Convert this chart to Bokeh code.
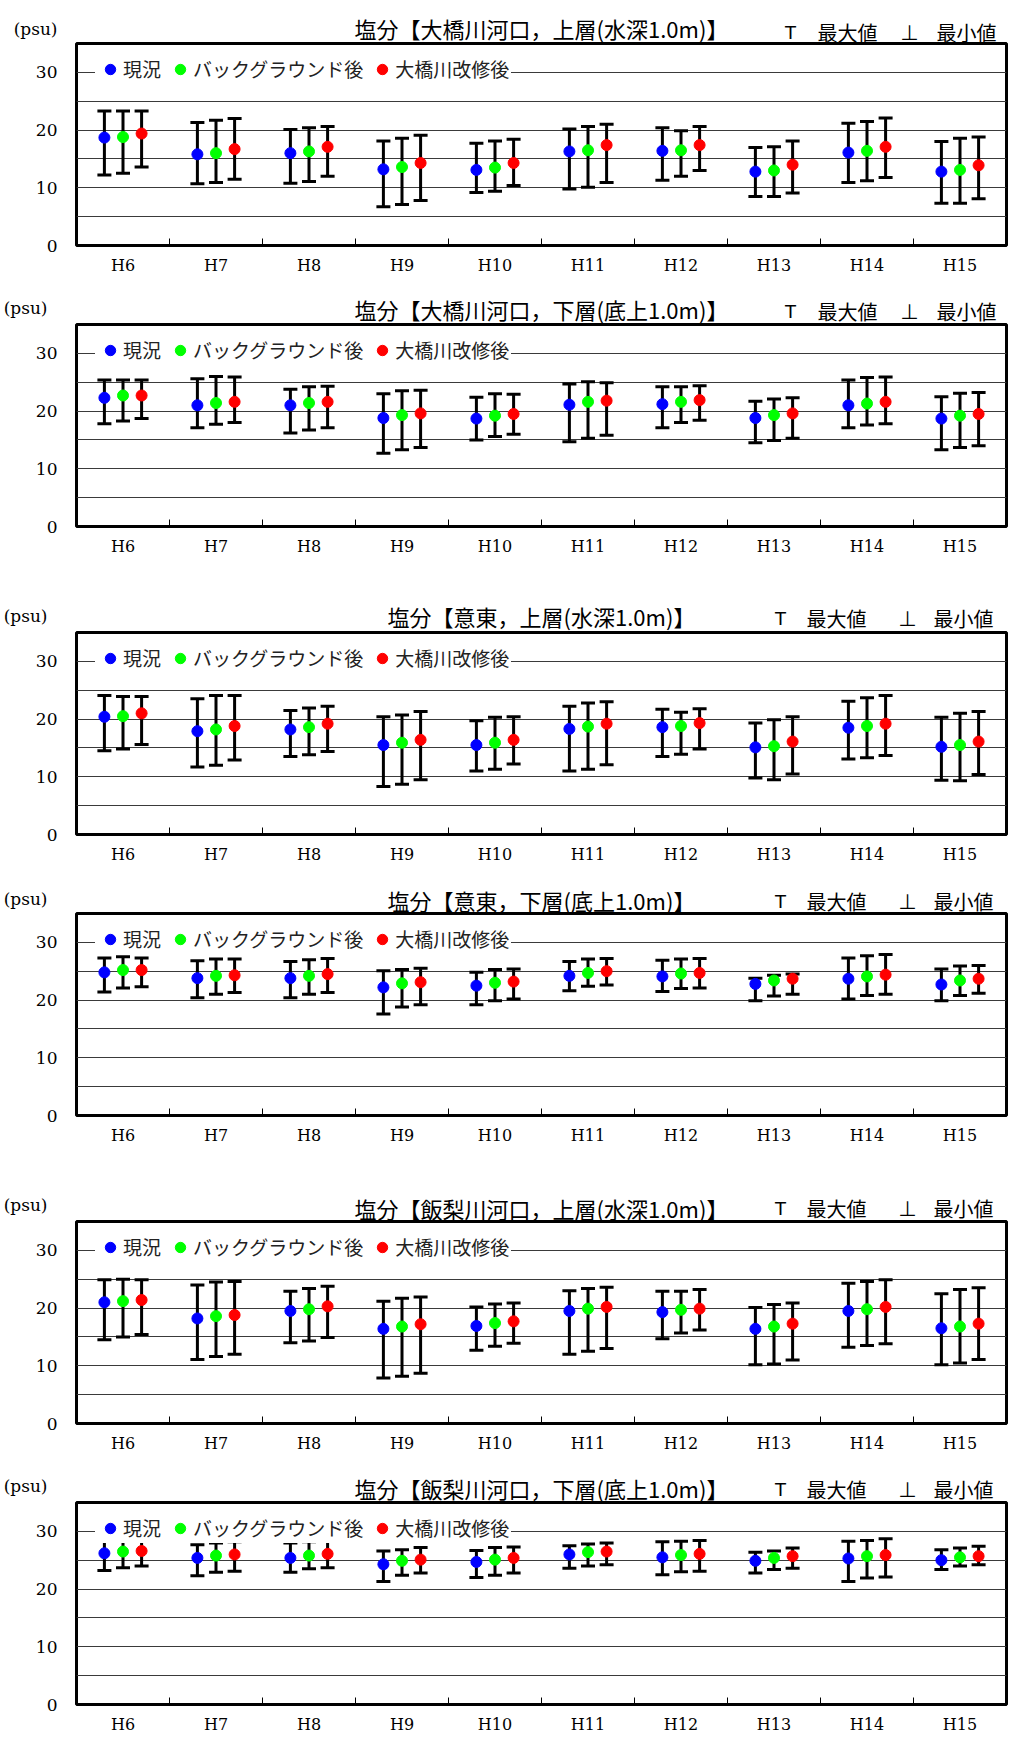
from bokeh.plotting import figure
from bokeh.models import (ColumnDataSource, Range1d, FixedTicker, Whisker, TeeHead,
                          Label, Legend, LegendItem)
from bokeh.transform import dodge
from bokeh.layouts import column
from bokeh.embed import file_html
from bokeh.resources import INLINE

# ---------------- data ----------------
YEARS = ["H6", "H7", "H8", "H9", "H10", "H11", "H12", "H13", "H14", "H15"]
SERIES = ["現況", "バックグラウンド後", "大橋川改修後"]
TITLES = [
    "塩分【大橋川河口，上層(水深1.0m)】",
    "塩分【大橋川河口，下層(底上1.0m)】",
    "塩分【意東，上層(水深1.0m)】",
    "塩分【意東，下層(底上1.0m)】",
    "塩分【飯梨川河口，上層(水深1.0m)】",
    "塩分【飯梨川河口，下層(底上1.0m)】",
]
UNIT = "(psu)"
MAX_TXT = "最大値"
MIN_TXT = "最小値"

# Panel 1: 大橋川河口 上層
P1_CUR_MEAN = [18.7, 15.8, 16.0, 13.2, 13.1, 16.3, 16.4, 12.8, 16.1, 12.8]
P1_CUR_MAX = [23.3, 21.3, 20.1, 18.1, 17.7, 20.2, 20.4, 17.0, 21.2, 18.0]
P1_CUR_MIN = [12.2, 10.7, 10.8, 6.7, 9.2, 9.8, 11.3, 8.5, 10.9, 7.3]
P1_BG_MEAN = [18.8, 16.0, 16.3, 13.6, 13.5, 16.5, 16.5, 13.0, 16.4, 13.1]
P1_BG_MAX = [23.3, 21.7, 20.4, 18.6, 18.1, 20.6, 19.9, 17.1, 21.5, 18.6]
P1_BG_MIN = [12.5, 10.9, 11.1, 7.1, 9.4, 10.1, 12.0, 8.5, 11.2, 7.3]
P1_IMP_MEAN = [19.4, 16.7, 17.1, 14.3, 14.3, 17.4, 17.4, 14.0, 17.1, 13.9]
P1_IMP_MAX = [23.3, 22.0, 20.6, 19.1, 18.4, 21.0, 20.6, 18.1, 22.1, 18.8]
P1_IMP_MIN = [13.6, 11.5, 12.0, 7.8, 10.4, 10.9, 13.0, 9.1, 11.8, 8.1]

# Panel 2: 大橋川河口 下層
P2_CUR_MEAN = [22.3, 21.0, 21.0, 18.8, 18.7, 21.1, 21.2, 18.8, 21.0, 18.7]
P2_CUR_MAX = [25.4, 25.6, 23.8, 23.0, 22.4, 24.7, 24.2, 21.7, 25.4, 22.5]
P2_CUR_MIN = [17.8, 17.1, 16.2, 12.7, 15.0, 14.7, 17.1, 14.5, 17.1, 13.3]
P2_BG_MEAN = [22.7, 21.4, 21.4, 19.3, 19.2, 21.6, 21.6, 19.3, 21.3, 19.2]
P2_BG_MAX = [25.4, 26.0, 24.2, 23.5, 23.0, 25.1, 24.2, 22.1, 25.8, 23.1]
P2_BG_MIN = [18.3, 17.7, 16.7, 13.3, 15.6, 15.3, 18.0, 14.9, 17.6, 13.7]
P2_IMP_MEAN = [22.7, 21.6, 21.6, 19.6, 19.5, 21.8, 21.9, 19.6, 21.6, 19.5]
P2_IMP_MAX = [25.4, 25.9, 24.3, 23.6, 22.9, 24.9, 24.4, 22.3, 25.9, 23.2]
P2_IMP_MIN = [18.7, 18.0, 17.1, 13.7, 16.0, 15.8, 18.4, 15.3, 17.8, 14.0]

# Panel 3: 意東 上層
P3_CUR_MEAN = [20.4, 17.9, 18.2, 15.5, 15.5, 18.3, 18.6, 15.1, 18.5, 15.2]
P3_CUR_MAX = [24.1, 23.5, 21.5, 20.4, 19.7, 22.2, 21.7, 19.3, 23.1, 20.3]
P3_CUR_MIN = [14.5, 11.7, 13.5, 8.3, 11.0, 11.0, 13.5, 9.8, 13.1, 9.4]
P3_BG_MEAN = [20.5, 18.2, 18.6, 15.9, 15.9, 18.7, 18.8, 15.3, 18.8, 15.5]
P3_BG_MAX = [23.9, 24.1, 21.9, 20.7, 20.3, 22.8, 21.2, 19.9, 23.7, 21.0]
P3_BG_MIN = [14.8, 12.0, 13.8, 8.7, 11.3, 11.3, 13.9, 9.5, 13.3, 9.3]
P3_IMP_MEAN = [21.0, 18.8, 19.2, 16.4, 16.4, 19.2, 19.3, 16.1, 19.2, 16.1]
P3_IMP_MAX = [23.9, 24.1, 22.2, 21.3, 20.4, 23.0, 21.8, 20.4, 24.1, 21.3]
P3_IMP_MIN = [15.6, 12.9, 14.4, 9.5, 12.2, 12.1, 14.8, 10.5, 13.7, 10.4]

# Panel 4: 意東 下層
P4_CUR_MEAN = [24.8, 23.8, 23.8, 22.2, 22.5, 24.2, 24.1, 22.8, 23.7, 22.7]
P4_CUR_MAX = [27.3, 26.8, 26.7, 25.1, 24.8, 26.7, 26.9, 23.8, 27.3, 25.4]
P4_CUR_MIN = [21.4, 20.4, 20.4, 17.6, 19.2, 21.6, 21.5, 19.9, 20.2, 19.9]
P4_BG_MEAN = [25.2, 24.2, 24.2, 22.9, 23.0, 24.7, 24.6, 23.4, 24.1, 23.4]
P4_BG_MAX = [27.5, 27.1, 27.0, 25.3, 25.3, 27.1, 27.1, 24.3, 27.7, 25.9]
P4_BG_MIN = [22.1, 21.0, 21.0, 18.8, 19.9, 22.4, 22.0, 20.7, 20.8, 20.8]
P4_IMP_MEAN = [25.2, 24.3, 24.5, 23.1, 23.2, 25.0, 24.7, 23.7, 24.4, 23.7]
P4_IMP_MAX = [27.3, 27.1, 27.2, 25.5, 25.4, 27.2, 27.2, 24.5, 27.9, 26.0]
P4_IMP_MIN = [22.3, 21.3, 21.3, 19.2, 20.2, 22.6, 22.1, 21.0, 21.0, 21.2]

# Panel 5: 飯梨川河口 上層
P5_CUR_MEAN = [21.0, 18.2, 19.5, 16.4, 16.9, 19.5, 19.3, 16.4, 19.5, 16.5]
P5_CUR_MAX = [24.9, 24.0, 22.9, 21.2, 20.2, 23.0, 22.9, 20.1, 24.3, 22.5]
P5_CUR_MIN = [14.5, 11.1, 14.0, 7.9, 12.7, 12.0, 14.7, 10.2, 13.2, 10.2]
P5_BG_MEAN = [21.2, 18.6, 19.8, 16.8, 17.4, 19.9, 19.7, 16.8, 19.8, 16.8]
P5_BG_MAX = [25.0, 24.5, 23.4, 21.7, 20.7, 23.4, 22.9, 20.6, 24.6, 23.2]
P5_BG_MIN = [15.0, 11.6, 14.3, 8.2, 13.4, 12.5, 15.7, 10.3, 13.5, 10.5]
P5_IMP_MEAN = [21.4, 18.8, 20.3, 17.2, 17.7, 20.2, 19.9, 17.3, 20.2, 17.3]
P5_IMP_MAX = [24.9, 24.6, 23.8, 21.9, 20.9, 23.6, 23.2, 20.9, 24.9, 23.5]
P5_IMP_MIN = [15.4, 12.0, 14.9, 8.7, 13.9, 13.0, 16.2, 11.0, 13.8, 11.1]

# Panel 6: 飯梨川河口 下層
P6_CUR_MEAN = [26.2, 25.4, 25.4, 24.3, 24.7, 26.0, 25.5, 24.9, 25.3, 25.0]
P6_CUR_MAX = [28.6, 27.7, 28.0, 26.6, 26.7, 27.5, 28.2, 26.4, 28.3, 26.8]
P6_CUR_MIN = [23.2, 22.3, 22.9, 21.3, 22.0, 23.6, 22.5, 22.8, 21.3, 23.4]
P6_BG_MEAN = [26.5, 25.8, 25.8, 24.9, 25.1, 26.4, 25.9, 25.4, 25.7, 25.5]
P6_BG_MAX = [28.8, 28.0, 28.2, 26.8, 27.2, 27.8, 28.3, 26.6, 28.4, 27.1]
P6_BG_MIN = [23.7, 22.9, 23.5, 22.4, 22.4, 24.0, 23.0, 23.4, 21.9, 24.0]
P6_IMP_MEAN = [26.6, 26.0, 26.1, 25.1, 25.4, 26.5, 26.1, 25.7, 25.9, 25.7]
P6_IMP_MAX = [28.9, 28.2, 28.4, 27.2, 27.3, 28.0, 28.4, 27.1, 28.7, 27.4]
P6_IMP_MIN = [24.0, 23.1, 23.7, 22.8, 22.8, 24.2, 23.1, 23.6, 22.1, 24.2]

Y_TICKS = [0, 10, 20, 30]
Y_GRID = [5, 10, 15, 20, 25, 30]

PANELS = [
    [(P1_CUR_MEAN, P1_CUR_MAX, P1_CUR_MIN), (P1_BG_MEAN, P1_BG_MAX, P1_BG_MIN), (P1_IMP_MEAN, P1_IMP_MAX, P1_IMP_MIN)],
    [(P2_CUR_MEAN, P2_CUR_MAX, P2_CUR_MIN), (P2_BG_MEAN, P2_BG_MAX, P2_BG_MIN), (P2_IMP_MEAN, P2_IMP_MAX, P2_IMP_MIN)],
    [(P3_CUR_MEAN, P3_CUR_MAX, P3_CUR_MIN), (P3_BG_MEAN, P3_BG_MAX, P3_BG_MIN), (P3_IMP_MEAN, P3_IMP_MAX, P3_IMP_MIN)],
    [(P4_CUR_MEAN, P4_CUR_MAX, P4_CUR_MIN), (P4_BG_MEAN, P4_BG_MAX, P4_BG_MIN), (P4_IMP_MEAN, P4_IMP_MAX, P4_IMP_MIN)],
    [(P5_CUR_MEAN, P5_CUR_MAX, P5_CUR_MIN), (P5_BG_MEAN, P5_BG_MAX, P5_BG_MIN), (P5_IMP_MEAN, P5_IMP_MAX, P5_IMP_MIN)],
    [(P6_CUR_MEAN, P6_CUR_MAX, P6_CUR_MIN), (P6_BG_MEAN, P6_BG_MAX, P6_BG_MIN), (P6_IMP_MEAN, P6_IMP_MAX, P6_IMP_MIN)],
]

# ---------------- style / layout ----------------
COLORS = ["#0000ff", "#00ff00", "#ff0000"]
OFFSETS = [-0.2, 0.0, 0.2]
FIG_W = 1008
BORDER_L = 76
BORDER_R = 2
FRAME_H = 202
TOP_GAP = 4
OV = 12                      # header overlaps the chart's top border by this much
HEAD_H = [39, 33, 33, 33, 33, 33]
CHART_H = [248, 275, 248, 275, 248, 242]
TITLE_Y = [12, 12, 13, 10, 10, 11]
PSU_Y = [11, 13, 13, 11, 13, 13]
KEY_Y = [7, 9, 10, 8, 9, 9]
PSU_STANDOFF = [13, 23, 23, 23, 23, 23]
TITLE_X = 541
KEY_X = [(790, 817, 909, 936)] * 2 + [(780, 806, 907, 933)] * 4
CJK = "Noto Sans CJK JP"
SERIF = "DejaVu Serif"


def header(k):
    h = figure(width=FIG_W, height=HEAD_H[k] + OV,
               x_range=Range1d(BORDER_L, FIG_W - BORDER_R),
               y_range=Range1d(-OV, HEAD_H[k]), output_backend="svg", toolbar_location=None,
               x_axis_location=None, y_axis_location="left",
               min_border_left=BORDER_L, min_border_right=BORDER_R,
               min_border_top=0, min_border_bottom=0, margin=(0, 0, -OV, 0))
    h.outline_line_color = None
    h.grid.visible = False
    h.background_fill_color = "white"
    h.border_fill_color = "white"
    # unit text "(psu)" shown as the header's only y tick label (left of the frame)
    h.yaxis.ticker = FixedTicker(ticks=[PSU_Y[k]])
    h.yaxis.major_label_overrides = {PSU_Y[k]: UNIT}
    h.yaxis.major_tick_line_color = None
    h.yaxis.minor_tick_line_color = None
    h.yaxis.axis_line_color = None
    h.yaxis.major_label_standoff = PSU_STANDOFF[k]
    h.yaxis.major_label_text_font = SERIF
    h.yaxis.major_label_text_font_size = "17px"
    h.yaxis.major_label_text_color = "black"

    def lab(x, y, text, align, font, size):
        h.add_layout(Label(x=x, y=y, text=text, text_align=align, text_baseline="middle",
                           text_font=font, text_font_size=size, text_color="black"))

    lab(TITLE_X, TITLE_Y[k], TITLES[k], "center", CJK, "22px")
    tx, t1, bx, t2 = KEY_X[k]
    lab(tx, KEY_Y[k], "T", "center", "DejaVu Sans", "18px")
    lab(t1, KEY_Y[k], MAX_TXT, "left", CJK, "20px")
    lab(bx, KEY_Y[k], "⊥", "center", "DejaVu Sans", "21px")
    lab(t2, KEY_Y[k], MIN_TXT, "left", CJK, "20px")
    return h


def chart(k):
    n = len(YEARS)
    p = figure(width=FIG_W, height=CHART_H[k], x_range=Range1d(0, n), y_range=Range1d(0, 35),
               output_backend="svg", toolbar_location=None,
               min_border_left=BORDER_L, min_border_right=BORDER_R,
               min_border_top=TOP_GAP,
               min_border_bottom=CHART_H[k] - TOP_GAP - FRAME_H)
    p.background_fill_color = "white"
    p.border_fill_color = None
    p.outline_line_color = "black"
    p.outline_line_width = 3
    p.xgrid.visible = False
    p.ygrid.ticker = FixedTicker(ticks=Y_GRID)
    p.ygrid.grid_line_color = "#3a3a3a"
    p.ygrid.grid_line_width = 1

    xc = [i + 0.5 for i in range(n)]
    p.xaxis.ticker = FixedTicker(ticks=xc, minor_ticks=list(range(1, n)))
    p.xaxis.major_label_overrides = {x: y for x, y in zip(xc, YEARS)}
    p.xaxis.major_tick_line_color = None
    p.xaxis.minor_tick_in = 7
    p.xaxis.minor_tick_out = 0
    p.xaxis.minor_tick_line_color = "black"
    p.xaxis.minor_tick_line_width = 1
    p.xaxis.axis_line_color = None
    p.xaxis.major_label_standoff = 4
    p.xaxis.major_label_text_font = SERIF
    p.xaxis.major_label_text_font_size = "16px"
    p.xaxis.major_label_text_color = "black"

    p.yaxis.ticker = FixedTicker(ticks=Y_TICKS)
    p.yaxis.major_tick_line_color = None
    p.yaxis.minor_tick_line_color = None
    p.yaxis.axis_line_color = None
    p.yaxis.major_label_standoff = 13
    p.yaxis.major_label_text_font = SERIF
    p.yaxis.major_label_text_font_size = "17px"
    p.yaxis.major_label_text_color = "black"

    legend = Legend(location=(19, 161), orientation="horizontal", margin=0, padding=2,
                    glyph_width=26, glyph_height=26, label_standoff=0, spacing=6,
                    label_text_font=CJK, label_text_font_size="19px",
                    label_text_color="#222222",
                    background_fill_color="white", background_fill_alpha=1.0,
                    border_line_alpha=0, level="underlay")
    p.add_layout(legend)

    items = []
    for s, (mean, mx, mn) in enumerate(PANELS[k]):
        src = ColumnDataSource(dict(x=xc, mean=mean, upper=mx, lower=mn))
        w = Whisker(source=src, base=dodge("x", OFFSETS[s]), upper="upper", lower="lower",
                    line_color="black", line_width=3, level="underlay",
                    upper_head=TeeHead(size=14, line_width=3, line_color="black"),
                    lower_head=TeeHead(size=14, line_width=3, line_color="black"))
        p.add_layout(w)
        r = p.scatter(x=dodge("x", OFFSETS[s]), y="mean", source=src, size=11,
                      fill_color=COLORS[s], line_color=COLORS[s])
        items.append(LegendItem(label=SERIES[s], renderers=[r]))
    legend.items = items
    return p


figs = []
for k in range(6):
    figs.append(header(k))
    figs.append(chart(k))

layout = column(*figs, spacing=0)
open("out.html", "w").write(file_html(layout, INLINE))
